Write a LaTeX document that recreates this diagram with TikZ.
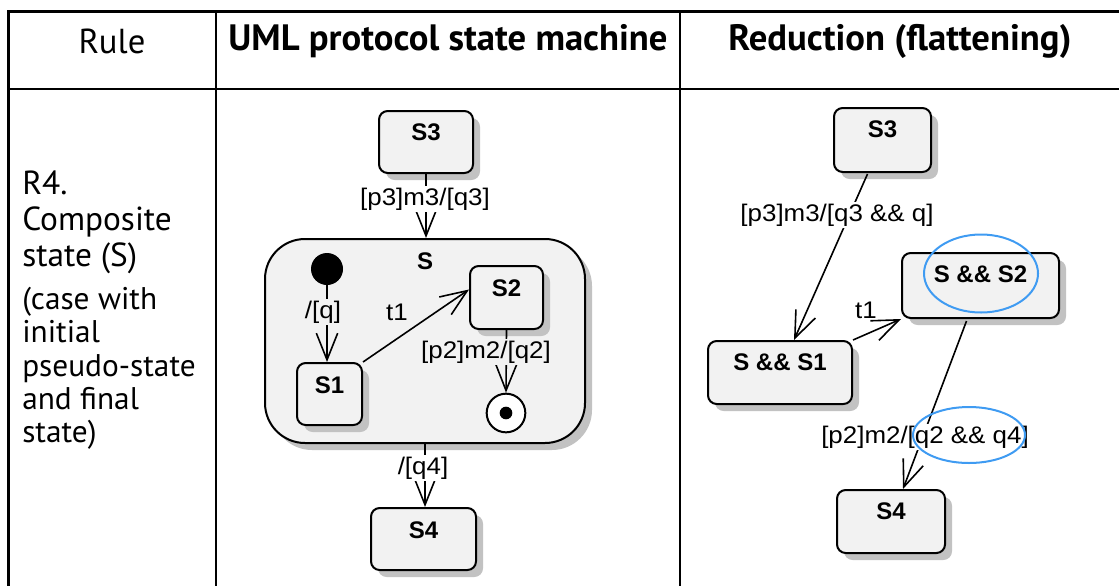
\documentclass[tikz,border=0pt]{standalone}
\usepackage{fontspec}
\setmainfont{PT Sans}
\newfontfamily\diagfont[FakeStretch=1.08]{Liberation Sans}
\newfontfamily\diagbold{Liberation Sans Bold}
\usetikzlibrary{arrows.meta,shadows,calc}

\definecolor{statefill}{HTML}{F2F2F2}
\definecolor{shadowgray}{HTML}{C2C2C2}
\definecolor{markblue}{HTML}{3F9BF2}

\begin{document}
\begin{tikzpicture}[x=0.75pt,y=-0.75pt,
  statebox/.style={draw, line width=1.5pt, rounded corners=6.5pt, fill=statefill,
    inner sep=0pt, drop shadow={shadow xshift=5.25pt, shadow yshift=-5.25pt,
    fill=shadowgray, opacity=1}},
  statename/.style={font=\diagbold\fontsize{18}{18}\selectfont, inner sep=0pt},
  trans/.style={line width=1.2pt, -{Straight Barb[length=20pt,width=16pt,line width=1.2pt]}},
  guard/.style={font=\diagfont\fontsize{18}{18}\selectfont, inner sep=1.5pt, fill=white},
  innerguard/.style={guard, fill=statefill},
  tablerule/.style={line width=1.1pt},
  heavyrule/.style={line width=2.4pt},
  headtext/.style={font=\bfseries\fontsize{27.5}{27.5}\selectfont},
  ruletext/.style={font=\fontsize{25}{27}\selectfont, align=left, anchor=north west, inner sep=0pt},
  highlight/.style={draw=markblue, line width=1.5pt}
]
\useasboundingbox (0,0) rectangle (1119,586);

% table frame
\draw[heavyrule] (1119,11.5) -- (8.5,11.5) -- (8.5,586);
\draw[tablerule] (8.5,89) -- (1119,89);
\draw[tablerule] (216,11.5) -- (216,586);
\draw[tablerule] (680,11.5) -- (680,586);

% header cells
\node[font=\fontsize{26}{26}\selectfont] (hrule) at (112,41) {Rule};
\node[headtext] (huml) at (448,41) {UML protocol state machine};
\node[headtext] (hred) at (900,41) {Reduction (flattening)};

% rule description
\node[ruletext] (rname) at (22,171) {R4.\\Composite\\state (S)};
\node[ruletext, font=\fontsize{23.5}{25}\selectfont] (rcase) at (22,287)
  {(case with\\initial\\pseudo-state\\and final\\state)};

% ---------- UML protocol state machine ----------
\node[statebox, minimum width=70.5pt, minimum height=46.5pt] (s3) at (426,142) {};
\node[statebox, rounded corners=30pt, minimum width=240pt, minimum height=153pt] (sc) at (425,341) {};
\node[statebox, minimum width=48.75pt, minimum height=46.5pt] (s1) at (329.5,394) {};
\node[statebox, minimum width=54.75pt, minimum height=47.25pt] (s2) at (506.5,297.5) {};
\node[statebox, minimum width=78.75pt, minimum height=46.5pt] (s4) at (423.5,539) {};
\node[circle, fill=black, minimum size=24pt, inner sep=0pt] (init) at (327,269) {};
\node[circle, draw, line width=1.5pt, fill=white, minimum size=29pt, inner sep=0pt] (fin) at (506,413) {};
\node[circle, fill=black, minimum size=9.5pt, inner sep=0pt] (finc) at (fin.center) {};

\node[statename] (s3n) at ($(s3.north)+(0,22)$) {S3};
\node[statename] (scn) at ($(sc.north)+(0,23)$) {S};
\node[statename] (s1n) at ($(s1.north)+(0,23)$) {S1};
\node[statename] (s2n) at ($(s2.north)+(0,23)$) {S2};
\node[statename] (s4n) at ($(s4.north)+(0,23)$) {S4};

\draw[trans] (s3.south) -- (s3.south |- sc.north);
\draw[trans] (init.south) -- (init.south |- s1.north);
\draw[trans] (s1.north east) -- ($(s2.west)+(0,-8)$);
\draw[trans] (s2.south) -- (fin.north);
\draw[trans] (sc.south) -- (sc.south |- s4.north);

\node[guard] (g3) at (425,199) {[p3]m3/[q3]};
\node[innerguard] (gq) at (323,312) {/[q]};
\node[innerguard, fill=none] (gt1) at (397,312) {t1};
\node[innerguard] (g2) at (486,352) {[p2]m2/[q2]};
\node[guard] (g4) at (423,468) {/[q4]};

% ---------- Reduction (flattening) ----------
\node[statebox, minimum width=72.75pt, minimum height=48pt] (r3) at (882.5,140) {};
\node[statebox, minimum width=108pt, minimum height=47.25pt] (rs1) at (780,372.5) {};
\node[statebox, minimum width=117.75pt, minimum height=48.75pt] (rs2) at (980.5,285.5) {};
\node[statebox, minimum width=81pt, minimum height=47.25pt] (r4) at (891,521.5) {};

\node[statename] (r3n) at ($(r3.north)+(0,22)$) {S3};
\node[statename] (rs1n) at ($(rs1.north)+(0,22)$) {S \&\& S1};
\node[statename] (rs2n) at ($(rs2.north)+(0,22)$) {S \&\& S2};
\node[statename] (r4n) at ($(r4.north)+(0,22)$) {S4};

\draw[trans] ($(r3.south)+(-15,1)$) -- ($(rs1.north)+(14,0)$);
\draw[trans] (rs1.north east) -- (rs2.south west);
\draw[trans] ($(rs2.south)+(-14,2)$) -- ($(r4.north)+(12,0)$);

\node[guard] (rg3) at (837,215) {[p3]m3/[q3 \&\& q]};
\node[guard, fill=none] (rgt1) at (866,310) {t1};
\node[guard] (rg2) at (925,437) {[p2]m2/[q2 \&\& q4]};

% highlighted parts of the reduction
\draw[highlight] (981,273.5) ellipse [x radius=57, y radius=39];
\draw[highlight] (969,435) ellipse [x radius=56, y radius=28];
\end{tikzpicture}
\end{document}
